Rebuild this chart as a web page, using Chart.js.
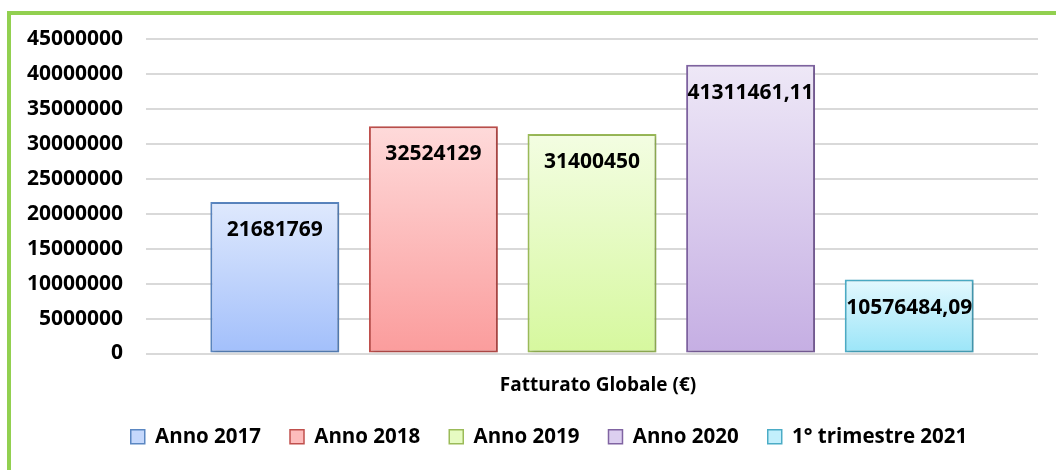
<!DOCTYPE html>
<html>
<head>
<meta charset="utf-8">
<script src="https://cdn.jsdelivr.net/npm/chart.js@4.4.0/dist/chart.umd.min.js"></script>
<style>
  html, body { margin: 0; padding: 0; background: #fff; }
  body { width: 1056px; height: 470px; position: relative; overflow: hidden; }
  .frame { position: absolute; left: 7px; top: 11px; width: 1200px; height: 600px;
           border-top: 4px solid #92d050; border-left: 4px solid #92d050; }
  canvas { position: absolute; left: 0; top: 0; }
</style>
</head>
<body>
<div class="frame"></div>
<canvas id="chart" width="1056" height="470"></canvas>
<script>
const categories = ['Fatturato Globale (€)'];
const seriesNames = ['Anno 2017', 'Anno 2018', 'Anno 2019', 'Anno 2020', '1° trimestre 2021'];
const seriesValues = [21681769, 32524129, 31400450, 41311461.11, 10576484.09];
const yMax = 45000000;
const yStep = 5000000;

const topColors = ['#dfe9fd', '#fedada', '#f3fde2', '#eee8f7', '#e3f8fe'];
const bottomColors = ['#a2bffb', '#fb9c9c', '#d6f89e', '#c5aee3', '#9ae5f8'];
const borderColors = ['#5b87c2', '#c0504d', '#9bbb59', '#8064a2', '#4bacc6'];
const legendFills = ['#c5d8fc', '#fdbcbc', '#e6fbc2', '#dccff0', '#c2effc'];

const font = 'Open Sans';

function barFill(i) {
  return (ctx) => {
    const chart = ctx.chart;
    if (!chart.chartArea) return topColors[i];
    const y = chart.scales.y;
    const top = y.getPixelForValue(seriesValues[i]);
    const bottom = y.getPixelForValue(0);
    const g = chart.ctx.createLinearGradient(0, top, 0, bottom);
    g.addColorStop(0, topColors[i]);
    g.addColorStop(1, bottomColors[i]);
    return g;
  };
}

function fmt(v) {
  return String(v).replace('.', ',');
}

// legend sits a bit right of the canvas centre in the original
const legendShift = {
  id: 'legendShift',
  afterLayout(chart) {
    chart.legend.left += 20;
    chart.legend.right += 20;
  }
};

const barShadow = {
  id: 'barShadow',
  beforeDatasetsDraw(chart) {
    const c = chart.ctx;
    c.save();
    c.shadowColor = 'rgba(0,0,0,0.18)';
    c.shadowBlur = 4;
    c.shadowOffsetX = 2;
    c.shadowOffsetY = 1;
  },
  afterDatasetsDraw(chart) {
    chart.ctx.restore();
  }
};

const valueLabels = {
  id: 'valueLabels',
  afterDatasetsDraw(chart) {
    const c = chart.ctx;
    c.save();
    c.font = `bold 21px "${font}"`;
    c.fillStyle = '#000';
    c.textAlign = 'center';
    c.textBaseline = 'middle';
    chart.data.datasets.forEach((ds, i) => {
      const el = chart.getDatasetMeta(i).data[0];
      c.fillText(fmt(ds.data[0]), el.x, el.y + 28);
    });
    c.restore();
  }
};

new Chart(document.getElementById('chart'), {
  type: 'bar',
  data: {
    labels: categories,
    datasets: seriesNames.map((name, i) => ({
      label: name,
      data: [seriesValues[i]],
      backgroundColor: barFill(i),
      borderColor: borderColors[i],
      borderWidth: 2,
      borderSkipped: false,
      categoryPercentage: 0.889,
      barPercentage: 0.813
    }))
  },
  options: {
    responsive: false,
    animation: false,
    devicePixelRatio: 1,
    layout: { padding: { left: 20, right: 18, top: 39, bottom: 13 } },
    scales: {
      x: {
        grid: { display: false },
        border: { display: false },
        ticks: { color: '#000', padding: 13, labelOffset: 6,
                 font: { family: font, size: 19, weight: 'bold' } },
        afterFit(scale) { scale.height = 44; }
      },
      y: {
        min: 0,
        max: yMax,
        ticks: { stepSize: yStep, color: '#000', padding: 23,
                 font: { family: font, size: 21, weight: 'bold' },
                 callback: (v) => String(v) },
        grid: { color: '#d9d9d9', lineWidth: 2, drawTicks: false },
        border: { display: false },
        afterFit(scale) { scale.width = 126; }
      }
    },
    plugins: {
      tooltip: { enabled: false },
      legend: {
        position: 'bottom',
        labels: {
          color: '#000',
          font: { family: font, size: 20.5, weight: 'bold' },
          boxWidth: 14,
          boxHeight: 14,
          padding: 29,
          generateLabels: () => seriesNames.map((n, i) => ({
            text: n,
            fillStyle: legendFills[i],
            strokeStyle: borderColors[i],
            lineWidth: 1.5,
            hidden: false,
            datasetIndex: i
          }))
        }
      }
    }
  },
  plugins: [legendShift, barShadow, valueLabels]
});
</script>
</body>
</html>
